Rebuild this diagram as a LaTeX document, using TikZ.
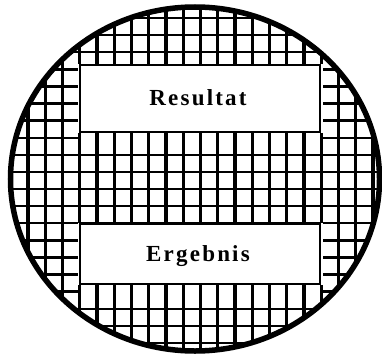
\documentclass[tikz,border=0pt]{standalone}
\usepackage{fontspec}
\setmainfont{Liberation Serif}
\tikzset{
  vline/.style={line width=3.4pt},
  hline/.style={line width=2.4pt},
  rim/.style={line width=5.5pt},
  panelfill/.style={fill=white},
  panelline/.style={draw=black, line width=1.6pt},
  wlabel/.style={font=\fontsize{23}{25}\selectfont\bfseries, anchor=base, inner sep=0pt}
}
\begin{document}
\begin{tikzpicture}[x=1pt,y=-1pt]
\useasboundingbox[fill=white] (0,0) rectangle (382,356);
\begin{scope}
  \clip (195,179) ellipse [x radius=184.5pt, y radius=172pt];
  \foreach \k in {0,...,20} \draw[vline] ({28+17.25*\k},0) -- ({28+17.25*\k},356);
  \foreach \j in {0,1,2,3,4,5,6,8,9,10,11,12,13,14,15,17,18,19} \draw[hline] (0,{18+17.1*\j}) -- (382,{18+17.1*\j});
  \foreach \j in {7,16} {
    \draw[hline] (0,{18+17.1*\j}) -- (79.75,{18+17.1*\j});
    \draw[hline] (321.25,{18+17.1*\j}) -- (382,{18+17.1*\j});
  }
\end{scope}
% panels
\fill[panelfill] (77.9,64) rectangle (323,133.2);
\draw[panelline] (79.8,65) rectangle (320,132);
\fill[panelfill] (77.9,223) rectangle (323,285.2);
\draw[panelline] (79.8,224) rectangle (320,284);
\node[wlabel] (res) at (198,105.5) {R\kern2.2pt e\kern2.2pt s\kern2.2pt u\kern2.2pt l\kern2.2pt t\kern2.2pt a\kern2.2pt t};
\node[wlabel] (erg) at (198,261.5) {E\kern2.2pt r\kern2.2pt g\kern2.2pt e\kern2.2pt b\kern2.2pt n\kern2.2pt i\kern2.2pt s};
% rim
\draw[rim] (195,179) ellipse [x radius=184.5pt, y radius=172pt];
\end{tikzpicture}
\end{document}
